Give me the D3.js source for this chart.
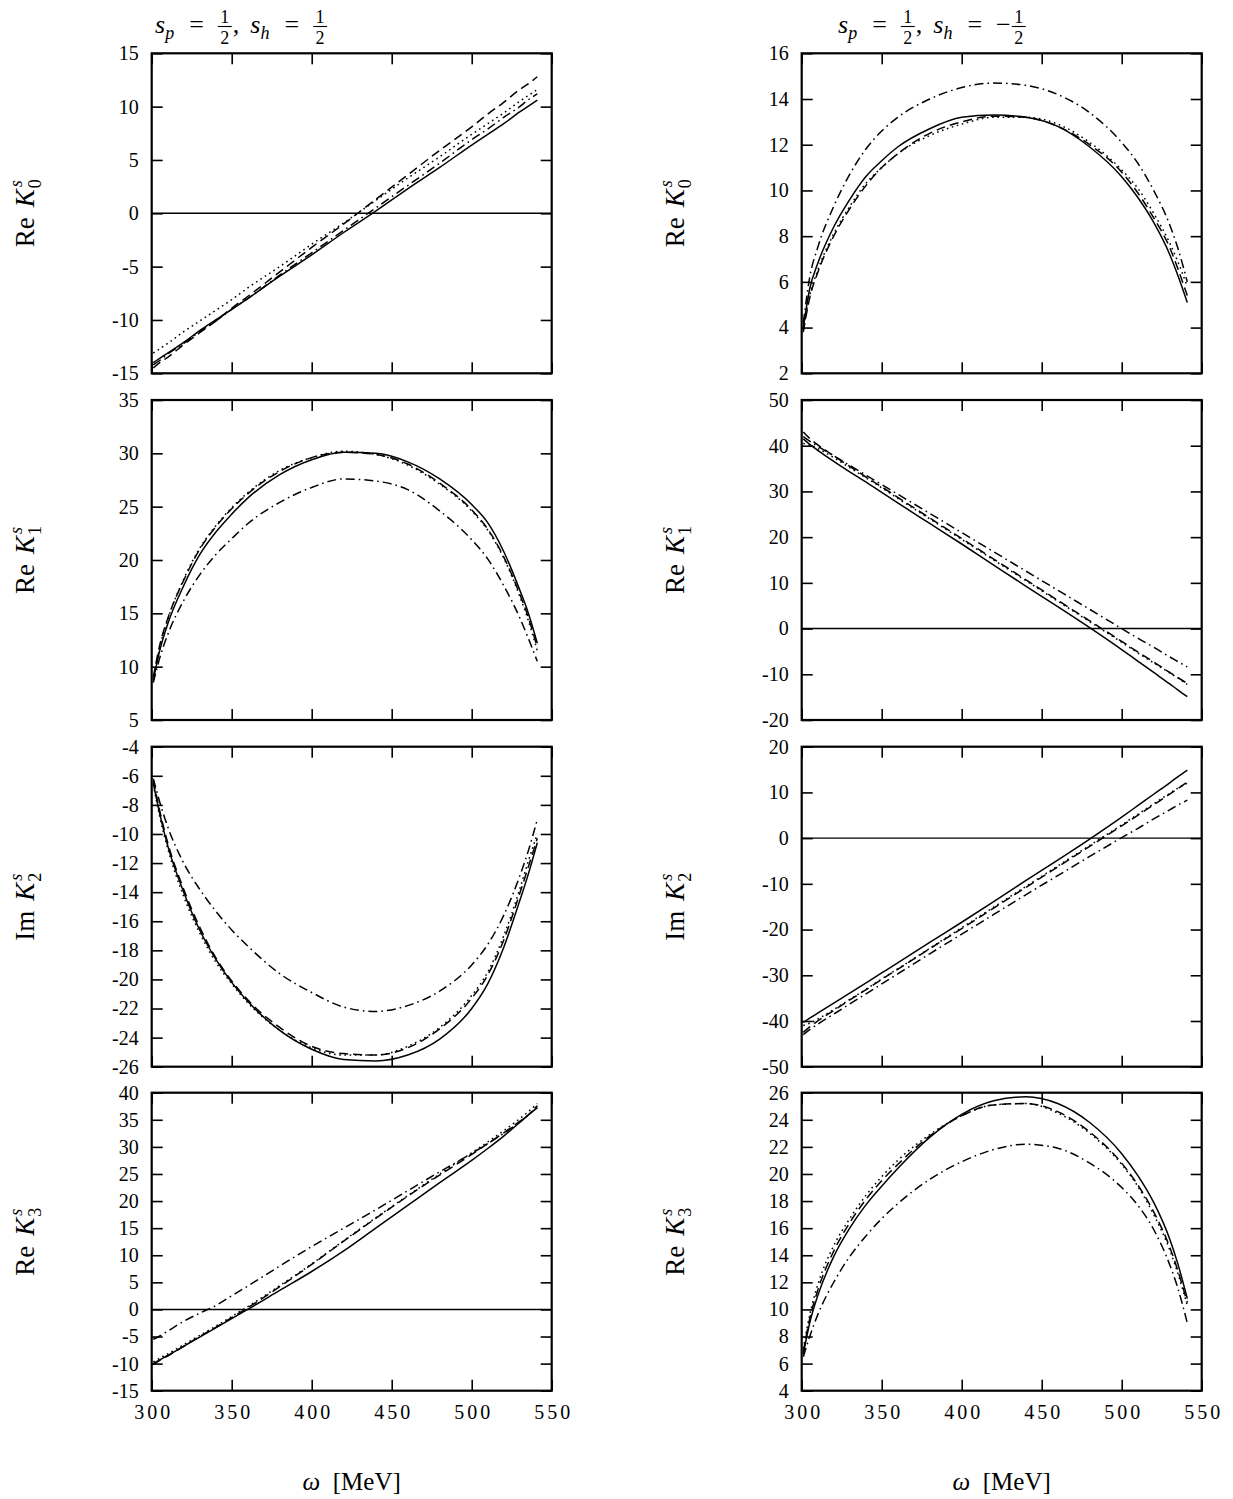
<!DOCTYPE html>
<html><head><meta charset="utf-8">
<script src="https://cdn.jsdelivr.net/npm/d3@7"></script>
<style>
body{margin:0;background:#fff;}
svg{display:block;}
text{font-family:"Liberation Serif","DejaVu Serif",serif;fill:#000;}
</style></head><body>
<svg id="c" width="1233" height="1499"></svg>
<script>
// ---------------- DATA ----------------
const omega = [301, 305, 310, 320, 330, 340, 350, 360, 380, 400, 420, 440, 460, 480, 500, 510, 520, 530, 535, 541];
const xTicks = [300, 350, 400, 450, 500, 550];

// s_p = 1/2, s_h = 1/2 : Re K0
const a1Solid   = [-14.0,-13.6,-13.1,-12.1,-11.0,-10.0,-9.0,-8.0,-5.9,-3.9,-1.8,0.2,2.3,4.3,6.4,7.4,8.4,9.5,10.0,10.6];
const a1Dashed  = [-14.5,-14.0,-13.5,-12.3,-11.2,-10.1,-8.9,-7.8,-5.5,-3.2,-1.0,1.3,3.6,5.9,8.1,9.3,10.4,11.6,12.1,12.8];
const a1Dotted  = [-13.1,-12.7,-12.2,-11.1,-10.1,-9.1,-8.1,-7.0,-5.0,-2.9,-0.9,1.2,3.3,5.3,7.4,8.4,9.4,10.5,11.0,11.6];
const a1DashDot = [-14.2,-13.8,-13.2,-12.2,-11.1,-10.1,-9.0,-8.0,-5.8,-3.7,-1.6,0.5,2.6,4.7,6.9,7.9,9.0,10.0,10.6,11.2];
const a1Ticks = [-15,-10,-5,0,5,10,15];

// Re K1
const a2Solid   = [8.7,11.5,14.0,17.6,20.5,22.6,24.3,25.8,28.0,29.4,30.1,30.0,29.2,27.6,25.2,23.5,20.8,17.2,15.2,12.2];
const a2Dashed  = [9.0,12.0,14.5,18.1,21.0,23.1,24.8,26.2,28.3,29.6,30.1,29.9,29.0,27.2,24.7,22.9,20.3,16.8,14.8,11.8];
const a2Dotted  = [8.8,11.8,14.4,18.2,21.1,23.2,24.9,26.3,28.4,29.6,30.2,29.9,28.9,27.1,24.6,22.8,20.2,16.6,14.5,11.5];
const a2DashDot = [8.5,10.8,13.0,16.2,18.6,20.5,22.0,23.4,25.4,26.8,27.6,27.4,26.6,24.6,21.9,20.1,17.6,14.6,12.8,10.5];
const a2Ticks = [5,10,15,20,25,30,35];

// Im K2
const a3Solid   = [-6.5,-8.6,-10.8,-14.0,-16.6,-18.6,-20.2,-21.5,-23.5,-24.8,-25.5,-25.6,-25.2,-24.1,-22.0,-20.3,-17.8,-14.6,-12.9,-10.6];
const a3Dashed  = [-6.3,-8.4,-10.6,-13.8,-16.4,-18.5,-20.1,-21.4,-23.3,-24.6,-25.1,-25.2,-24.7,-23.4,-21.3,-19.7,-17.3,-14.1,-12.4,-10.3];
const a3Dotted  = [-6.6,-8.8,-11.0,-14.3,-16.8,-18.8,-20.3,-21.6,-23.5,-24.7,-25.2,-25.2,-24.6,-23.3,-21.1,-19.5,-17.0,-13.8,-12.0,-10.0];
const a3DashDot = [-6.2,-7.8,-9.5,-12.0,-13.8,-15.3,-16.6,-17.7,-19.6,-20.9,-21.9,-22.2,-21.8,-20.8,-19.0,-17.6,-15.6,-12.9,-11.3,-9.0];
const a3Ticks = [-26,-24,-22,-20,-18,-16,-14,-12,-10,-8,-6,-4];

// Re K3
const a4Solid   = [-10.0,-9.3,-8.5,-6.8,-5.1,-3.4,-1.7,0.0,3.5,7.0,10.8,15.0,19.2,23.4,27.5,29.7,32.0,34.5,35.8,37.2];
const a4Dashed  = [-10.2,-9.4,-8.6,-6.8,-5.0,-3.3,-1.5,0.3,4.2,8.3,12.6,16.8,20.9,24.8,28.6,30.6,32.6,34.7,35.8,37.4];
const a4Dotted  = [-9.7,-9.0,-8.2,-6.5,-4.8,-3.1,-1.3,0.5,4.4,8.4,12.7,16.9,21.0,25.0,28.9,30.9,33.0,35.2,36.4,38.0];
const a4DashDot = [-5.5,-4.9,-4.0,-2.2,-0.7,0.7,2.5,4.3,8.0,11.6,15.0,18.4,21.9,25.4,28.8,30.6,32.5,34.6,35.8,37.6];
const a4Ticks = [-15,-10,-5,0,5,10,15,20,25,30,35,40];

// s_p = 1/2, s_h = -1/2 : Re K0
const b1Solid   = [4.0,5.7,6.8,8.4,9.6,10.6,11.3,11.9,12.7,13.2,13.3,13.2,12.8,11.9,10.6,9.7,8.6,7.2,6.3,5.1];
const b1Dashed  = [3.8,5.3,6.4,8.0,9.2,10.2,11.0,11.6,12.5,13.0,13.25,13.2,12.8,12.0,10.8,9.9,8.8,7.5,6.6,5.4];
const b1Dotted  = [3.9,5.4,6.5,8.1,9.3,10.3,11.0,11.6,12.4,12.9,13.2,13.2,12.9,12.1,10.9,10.1,9.0,7.7,6.9,5.8];
const b1DashDot = [4.2,6.2,7.5,9.3,10.7,11.8,12.6,13.2,14.0,14.5,14.7,14.6,14.2,13.4,12.1,11.2,10.0,8.5,7.5,6.0];
const b1Ticks = [2,4,6,8,10,12,14,16];

// Re K1
const b2Solid   = [41.5,40.3,39.0,36.6,34.3,32.1,29.8,27.5,23.0,18.5,13.9,9.3,4.8,0.2,-4.6,-7.1,-9.6,-12.1,-13.4,-14.9];
const b2Dashed  = [43.0,41.6,40.2,37.8,35.5,33.2,31.0,28.7,24.2,19.7,15.2,10.7,6.2,1.7,-2.8,-5.1,-7.3,-9.6,-10.7,-12.0];
const b2Dotted  = [40.5,40.2,39.4,37.4,35.2,33.0,30.8,28.5,24.0,19.5,15.0,10.5,6.0,1.5,-3.0,-5.3,-7.5,-9.7,-10.8,-12.2];
const b2DashDot = [42.0,41.0,39.9,37.8,35.7,33.6,31.5,29.4,25.2,21.0,16.8,12.6,8.4,4.2,0.0,-2.1,-4.1,-6.2,-7.2,-8.4];
const b2Ticks = [-20,-10,0,10,20,30,40,50];

// Im K2
const b3Solid   = [-40.3,-39.4,-38.3,-36.1,-33.9,-31.7,-29.5,-27.3,-22.8,-18.4,-13.9,-9.3,-4.8,-0.2,4.6,7.1,9.6,12.1,13.4,14.9];
const b3Dashed  = [-42.5,-41.3,-40.0,-37.7,-35.4,-33.2,-30.9,-28.7,-24.2,-19.8,-15.3,-10.8,-6.3,-1.8,2.7,5.0,7.3,9.6,10.8,12.3];
const b3Dotted  = [-41.0,-40.5,-39.6,-37.5,-35.3,-33.1,-30.8,-28.6,-24.1,-19.6,-15.1,-10.6,-6.1,-1.6,2.9,5.2,7.5,9.8,10.9,12.0];
const b3DashDot = [-43.0,-41.9,-40.7,-38.5,-36.3,-34.1,-31.9,-29.7,-25.3,-21.0,-16.7,-12.4,-8.2,-4.0,0.1,2.1,4.2,6.2,7.2,8.3];
const b3Ticks = [-50,-40,-30,-20,-10,0,10,20];

// Re K3
const b4Solid   = [6.7,9.0,11.0,13.9,16.0,17.7,19.1,20.4,22.7,24.4,25.4,25.7,25.2,23.8,21.5,19.9,17.9,15.2,13.4,10.8];
const b4Dashed  = [6.9,9.3,11.4,14.3,16.4,18.1,19.5,20.7,22.8,24.3,25.1,25.2,24.6,23.1,20.8,19.2,17.2,14.6,12.9,10.5];
const b4Dotted  = [7.1,9.6,11.8,14.7,16.7,18.4,19.8,21.0,22.9,24.3,25.1,25.2,24.5,23.0,20.7,19.1,17.0,14.4,12.7,10.3];
const b4DashDot = [6.5,8.0,9.6,12.0,13.9,15.4,16.7,17.8,19.6,20.9,21.8,22.2,21.9,20.8,19.0,17.7,15.9,13.3,11.6,9.0];
const b4Ticks = [4,6,8,10,12,14,16,18,20,22,24,26];

const rowLabels = [["Re","0"],["Re","1"],["Im","2"],["Re","3"]];

// ---------------- BUILD ----------------
const panels = [
  {col:0,row:0,ticks:a1Ticks,series:[a1Solid,a1Dashed,a1Dotted,a1DashDot]},
  {col:0,row:1,ticks:a2Ticks,series:[a2Solid,a2Dashed,a2Dotted,a2DashDot]},
  {col:0,row:2,ticks:a3Ticks,series:[a3Solid,a3Dashed,a3Dotted,a3DashDot]},
  {col:0,row:3,ticks:a4Ticks,series:[a4Solid,a4Dashed,a4Dotted,a4DashDot]},
  {col:1,row:0,ticks:b1Ticks,series:[b1Solid,b1Dashed,b1Dotted,b1DashDot]},
  {col:1,row:1,ticks:b2Ticks,series:[b2Solid,b2Dashed,b2Dotted,b2DashDot]},
  {col:1,row:2,ticks:b3Ticks,series:[b3Solid,b3Dashed,b3Dotted,b3DashDot]},
  {col:1,row:3,ticks:b4Ticks,series:[b4Solid,b4Dashed,b4Dotted,b4DashDot]},
];
const dashes = [null, "9,5", "1.6,3.6", "9,4,1.6,4"];

const svg = d3.select("#c");
const colX = [151.7, 801.7], colW = 400;
const rowY = [53.3, 400, 746.7, 1092.7], rowH = [320, 320, 320, 298];
const FONT = '"Liberation Serif","DejaVu Serif",serif';

function styleAxis(g, size){
  g.attr("font-family", FONT).attr("font-size", size);
  g.select(".domain").remove();
  g.selectAll(".tick line").attr("stroke", "#000").attr("stroke-width", 1.6);
  g.selectAll(".tick text").attr("fill", "#000");
}

panels.forEach(p => {
  const x0 = colX[p.col], y0 = rowY[p.row], h = rowH[p.row];
  const x = d3.scaleLinear().domain([300, 550]).range([x0, x0 + colW]);
  const dom = d3.extent(p.ticks);
  const y = d3.scaleLinear().domain(dom).range([y0 + h, y0]);
  const g = svg.append("g");

  const gl = g.append("g").attr("transform", `translate(${x0},0)`)
    .call(d3.axisLeft(y).tickValues(p.ticks).tickSize(-11).tickPadding(13).tickFormat(d => String(d)));
  styleAxis(gl, 20);
  const gr = g.append("g").attr("transform", `translate(${x0 + colW},0)`)
    .call(d3.axisRight(y).tickValues(p.ticks).tickSize(-11).tickFormat(""));
  styleAxis(gr, 20);
  const gt = g.append("g").attr("transform", `translate(0,${y0})`)
    .call(d3.axisTop(x).tickValues(xTicks).tickSize(-11).tickFormat(""));
  styleAxis(gt, 20);
  const gb = g.append("g").attr("transform", `translate(0,${y0 + h})`)
    .call(d3.axisBottom(x).tickValues(xTicks).tickSize(-11).tickPadding(14)
      .tickFormat(p.row === 3 ? (d => String(d)) : ""));
  styleAxis(gb, 20);
  gb.selectAll(".tick text").attr("letter-spacing", "3px").attr("dx", "1.5px");

  if (dom[0] < 0 && dom[1] > 0) {
    g.append("line").attr("x1", x(300)).attr("x2", x(550)).attr("y1", y(0)).attr("y2", y(0))
      .attr("stroke", "#000").attr("stroke-width", 1.4);
  }

  const line = d3.line().x((d, i) => x(omega[i])).y(d => y(d)).curve(d3.curveMonotoneX);
  p.series.forEach((s, k) => {
    g.append("path").attr("d", line(s)).attr("fill", "none").attr("stroke", "#000")
      .attr("stroke-width", 1.5).attr("stroke-dasharray", dashes[k]);
  });

  g.append("rect").attr("x", x0).attr("y", y0).attr("width", colW).attr("height", h)
    .attr("fill", "none").attr("stroke", "#000").attr("stroke-width", 2.2);

  // y label (rotated)
  const lab = rowLabels[p.row];
  const cy = y0 + h / 2;
  const lx = p.col === 0 ? 34 : 684;
  const lg = g.append("g").attr("transform", `translate(${lx},${cy}) rotate(-90)`)
    .attr("font-family", FONT);
  let cx = 0;
  const t1 = lg.append("text").attr("x", cx).attr("font-size", 27).text(lab[0]);
  cx += t1.node().getComputedTextLength() + 10;
  const t2 = lg.append("text").attr("x", cx).attr("font-size", 27).attr("font-style", "italic").text("K");
  cx += t2.node().getComputedTextLength() + 1;
  const t3 = lg.append("text").attr("x", cx).attr("y", 7).attr("font-size", 18).text(lab[1]);
  const t4 = lg.append("text").attr("x", cx + 1).attr("y", -12).attr("font-size", 18).attr("font-style", "italic").text("s");
  cx += Math.max(t3.node().getComputedTextLength(), t4.node().getComputedTextLength() + 1);
  lg.selectAll("text").attr("transform", `translate(${-cx / 2},0)`);
});

// titles
function frac(g, x, base, num, den, size){
  const n = g.append("text").attr("x", x).attr("y", base - 10).attr("font-size", size).attr("text-anchor", "middle").text(num);
  g.append("text").attr("x", x).attr("y", base + 11).attr("font-size", size).attr("text-anchor", "middle").text(den);
  const w = n.node().getComputedTextLength() + 5;
  g.append("line").attr("x1", x - w / 2).attr("x2", x + w / 2).attr("y1", base - 6.5).attr("y2", base - 6.5)
    .attr("stroke", "#000").attr("stroke-width", 1.1);
  return w;
}
function title(x, base, neg){
  const g = svg.append("g").attr("font-family", FONT);
  let cx = x;
  const put = (txt, size, it, dy) => {
    const t = g.append("text").attr("x", cx).attr("y", base + (dy || 0)).attr("font-size", size)
      .attr("font-style", it ? "italic" : "normal").text(txt);
    cx += t.node().getComputedTextLength();
  };
  put("s", 26, true); put("p", 18, true, 6); cx += 15;
  put("=", 26); cx += 14;
  frac(g, cx + 7, base, "1", "2", 18); cx += 15;
  put(",", 26); cx += 11;
  put("s", 26, true); put("h", 18, true, 6); cx += 15;
  put("=", 26); cx += 14;
  if (neg) { put("\u2212", 26); cx += 1; }
  frac(g, cx + 7, base, "1", "2", 18);
}
title(155, 33, false);
title(838, 33, true);

// x labels
[0, 1].forEach(c => {
  const cxm = colX[c] + colW / 2;
  const g = svg.append("text").attr("x", cxm).attr("y", 1490).attr("text-anchor", "middle")
    .attr("font-family", FONT).attr("font-size", 25);
  g.append("tspan").attr("font-style", "italic").text("\u03c9");
  g.append("tspan").text("\u00a0\u00a0[MeV]");
});
</script>
</body></html>
